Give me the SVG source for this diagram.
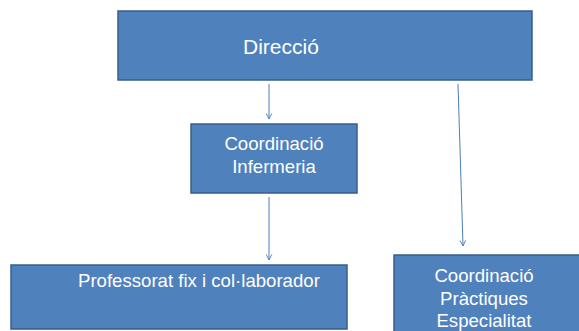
<svg xmlns="http://www.w3.org/2000/svg" width="579" height="331" viewBox="0 0 579 331">
<style>
.box{fill:#4F81BD;stroke:#385D8A;stroke-width:1.5}
.t{fill:#FFFFFF;font-family:"Liberation Sans",Arial,sans-serif;font-size:18.6px}
.big{font-size:21px}
.c{text-anchor:middle}
.con{stroke:#4A7EBB;stroke-width:1;fill:none;marker-end:url(#arr)}
</style>
<defs>
<marker id="arr" viewBox="0 0 10 10" refX="9" refY="5" markerWidth="7" markerHeight="7" markerUnits="userSpaceOnUse" orient="auto">
<path d="M1,1 L9,5 L1,9" fill="none" stroke="#4A7EBB" stroke-width="1.3"/>
</marker>
</defs>
<rect width="579" height="331" fill="#FFFFFF"/>
<g id="connectors">
<line class="con" x1="269" y1="84" x2="269" y2="119"/>
<line class="con" x1="458" y1="84" x2="463" y2="246"/>
<line class="con" x1="269" y1="197" x2="269" y2="260"/>
</g>
<g id="direccio">
<rect class="box" x="118" y="11" width="414" height="69"/>
<text class="t big" x="243" y="54">Direcció</text>
</g>
<g id="coord-infermeria">
<rect class="box" x="191" y="124" width="166" height="69"/>
<text class="t c" x="274" y="150">Coordinació</text>
<text class="t c" x="274" y="173">Infermeria</text>
</g>
<g id="professorat">
<rect class="box" x="11" y="265" width="336" height="64"/>
<text class="t" x="78" y="287">Professorat fix i col·laborador</text>
</g>
<g id="coord-practiques">
<rect class="box" x="394" y="255" width="200" height="90"/>
<text class="t c" x="484" y="282">Coordinació</text>
<text class="t c" x="484" y="305">Pràctiques</text>
<text class="t c" x="484" y="327">Especialitat</text>
</g>
</svg>
